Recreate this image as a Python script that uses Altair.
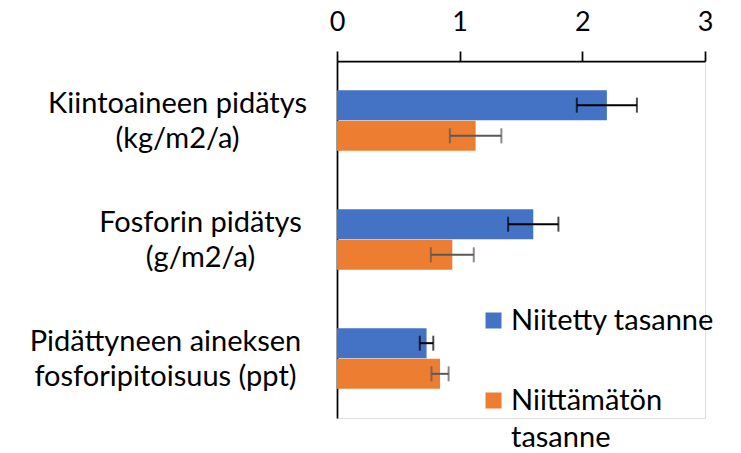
import altair as alt
import pandas as pd

categories = [
    "Kiintoaineen pidätys|(kg/m2/a)",
    "Fosforin pidätys|(g/m2/a)",
    "Pidättyneen aineksen|fosforipitoisuus (ppt)",
]
series = ["Niitetty tasanne", "Niittämätön tasanne"]
niitetty = [2.20, 1.60, 0.73]
niitetty_err = [0.245, 0.205, 0.055]
niittamaton = [1.13, 0.94, 0.84]
niittamaton_err = [0.21, 0.175, 0.07]
x_ticks = [0, 1, 2, 3]

bar_colors = ["#4472C4", "#ED7D31"]
err_colors = ["#000000", "#595959"]

rows = []
for i, c in enumerate(categories):
    for s, vals, errs in ((series[0], niitetty, niitetty_err), (series[1], niittamaton, niittamaton_err)):
        rows.append({"category": c, "series": s, "value": vals[i],
                     "low": vals[i] - errs[i], "high": vals[i] + errs[i]})
df = pd.DataFrame(rows)

FONT = "Lato"
FS = 29

pad_expr = {
    "condition": [
        {"test": f"datum.value === '{categories[0]}'", "value": 160},
        {"test": f"datum.value === '{categories[1]}'", "value": 137},
    ],
    "value": 172,
}

y_enc = alt.Y(
    "category:N", sort=categories, title=None,
    scale=alt.Scale(paddingInner=0.49, paddingOuter=0.245),
    axis=alt.Axis(
        domain=True, domainColor="#000000", domainWidth=1.75, ticks=False,
        labelAlign="center", labelBaseline="middle", labelLineHeight=35,
        labelFontSize=FS, labelFont=FONT, labelColor="#000000",
        labelPadding=pad_expr, labelLimit=500, labelOffset=-17,
        labelExpr="split(datum.label, '|')",
    ),
)
yoff = alt.YOffset("series:N", sort=series, scale=alt.Scale(paddingInner=0.02))

x_scale = alt.Scale(domain=[0, 3], nice=False)

base = alt.Chart(df).encode(y=y_enc, yOffset=yoff)

bars = base.mark_bar().encode(
    x=alt.X("value:Q", scale=x_scale, title=None,
            axis=alt.Axis(orient="top", values=x_ticks, grid=False, format="d",
                          domainColor="#000000", domainWidth=1.75,
                          tickColor="#000000", tickWidth=1.75, tickSize=10,
                          labelFontSize=27, labelFont=FONT, labelColor="#000000",
                          labelLineHeight=27,
                          labelPadding=15, labelFlush=False)),
    color=alt.Color("series:N", sort=series,
                    scale=alt.Scale(domain=series, range=bar_colors),
                    legend=alt.Legend(
                        orient="none", legendX=142, legendY=245, title=None,
                        symbolType="square", symbolSize=256, symbolStrokeWidth=0,
                        labelFontSize=FS, labelFont=FONT, labelColor="#000000",
                        labelLimit=500, labelOffset=3,
                        labelBaseline="middle", rowPadding=50,
                        labelExpr="datum.label == 'Niittämätön tasanne' ? ['Niittämätön', 'tasanne'] : datum.label",
                    )),
)

rules = base.mark_rule(strokeWidth=2).encode(
    x=alt.X("low:Q", scale=x_scale),
    x2="high:Q",
    stroke=alt.Stroke("series:N", scale=alt.Scale(domain=series, range=err_colors), legend=None),
)
caps_lo = base.mark_tick(thickness=2, size=15).encode(
    x=alt.X("low:Q", scale=x_scale),
    fill=alt.Fill("series:N", scale=alt.Scale(domain=series, range=err_colors), legend=None),
)
caps_hi = base.mark_tick(thickness=2, size=15).encode(
    x=alt.X("high:Q", scale=x_scale),
    fill=alt.Fill("series:N", scale=alt.Scale(domain=series, range=err_colors), legend=None),
)

chart = alt.layer(bars, rules, caps_lo, caps_hi).properties(
    width=368, height=357,
    autosize=alt.AutoSizeParams(type="none"),
    padding={"left": 329, "top": 53, "right": 28, "bottom": 35},
).configure_view(stroke=None).configure(
    font=FONT, style={"guide-label": {"lineHeight": 37}}
)

chart.save("out.html", embed_options={"renderer": "svg", "actions": False})
